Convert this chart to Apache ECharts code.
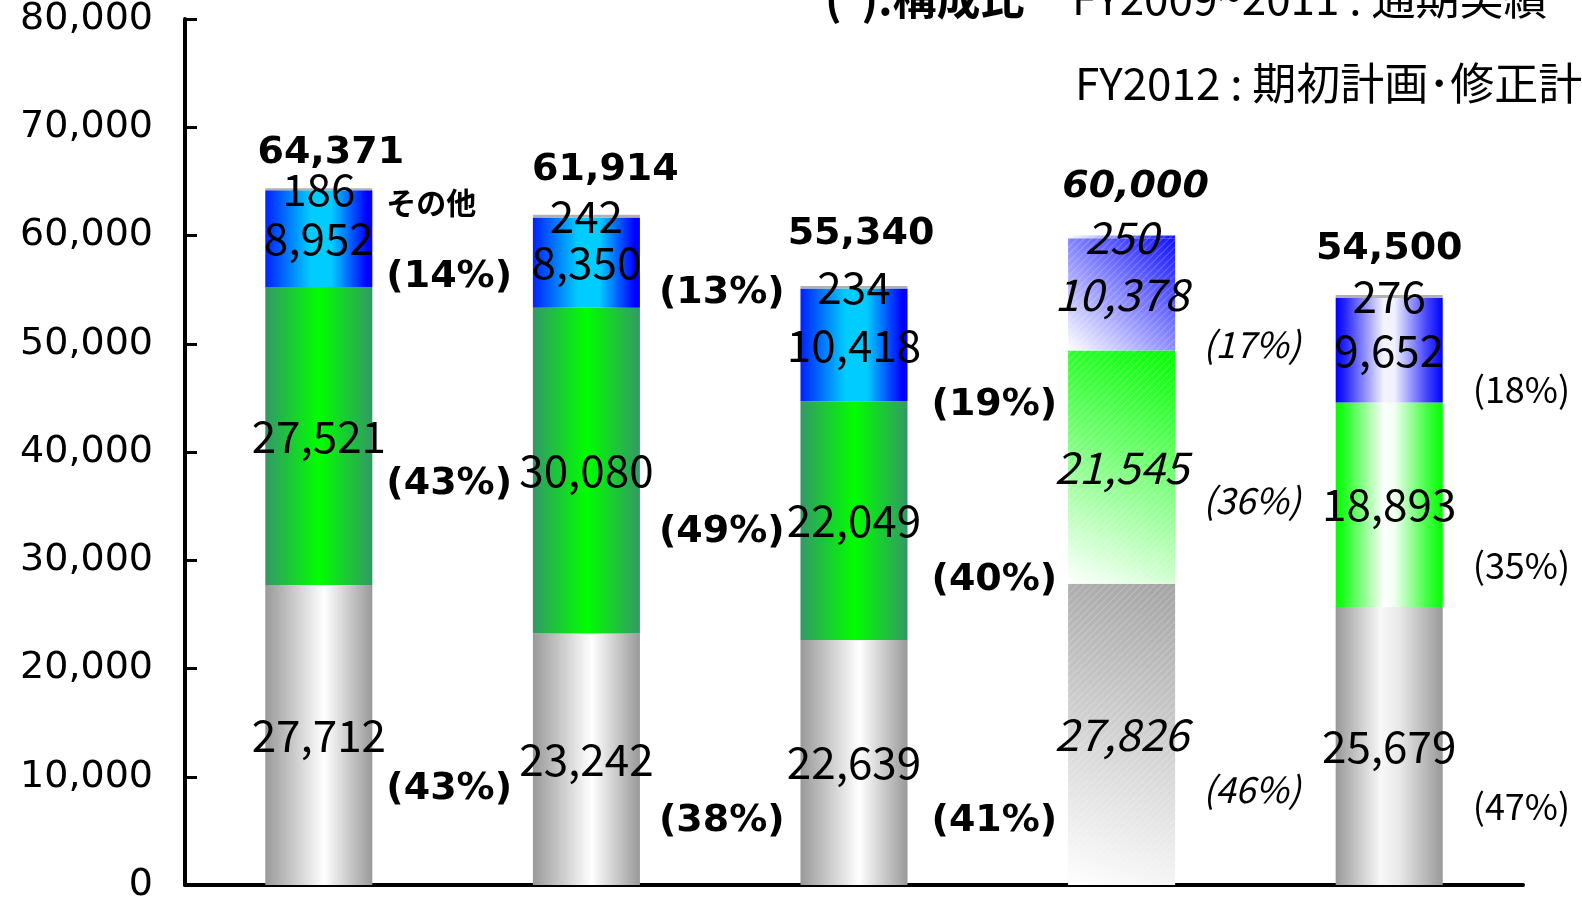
<!DOCTYPE html>
<html>
<head>
<meta charset="utf-8">
<script src="https://cdn.jsdelivr.net/npm/echarts@6.0.0/dist/echarts.min.js"></script>
<style>
    html, body { margin: 0; padding: 0; background: #fff; }
    #main { width: 1582px; height: 904px; }
</style>
</head>
<body>
<div id="main"></div>
<script>
// データ
var categories = ['FY2009', 'FY2010', 'FY2011', 'FY2012期初計画', 'FY2012修正計画'];
var segA = [27712, 23242, 22639, 27826, 25679];
var segB = [27521, 30080, 22049, 21545, 18893];
var segC = [8952, 8350, 10418, 10378, 9652];
var segOther = [186, 242, 234, 250, 276];
var totals = [64371, 61914, 55340, 60000, 54500];
var pctA = [43, 38, 41, 46, 47];
var pctB = [43, 49, 40, 36, 35];
var pctC = [14, 13, 19, 17, 18];
var yMin = 0, yMax = 80000, yStep = 10000;

// ラベル位置の微調整
var pctDx = [0, 5, 10, 14, 16];
var pctDyA = [54, 62, 59, 55, 60];
var pctDyB = [48, 62, 60, 33, 61];
var pctDyC = [38, 31, 60, 50, 39];
var totalDx = [12, 19, 7, 14, 0];
var totalDy = [-16, -26, -33, -29, -27];

var CJK = '"Noto Sans CJK JP"';
var LAT = '"DejaVu Sans"';

function grad(x, y, x2, y2, stops) {
    return new echarts.graphic.LinearGradient(x, y, x2, y2,
        stops.map(function (s) { return { offset: s[0], color: s[1] }; }));
}

// 棒の塗り（実績・期初計画・修正計画）
function fill(kind, i) {
    if (i < 3) {
        if (kind == 'A') return grad(0, 0, 1, 0, [[0, '#999999'], [0.55, '#ffffff'], [1, '#999999']]);
        if (kind == 'B') return grad(0, 0, 1, 0, [[0, '#339966'], [0.5, '#00ff00'], [1, '#339966']]);
        if (kind == 'C') return grad(0, 0, 1, 0, [[0, '#0022ff'], [0.42, '#00ccff'], [0.62, '#00ccff'], [0.95, '#0000ff'], [1, '#0000ff']]);
        return '#b2b2b2';
    }
    if (i == 3) {
        if (kind == 'A') return grad(0, 1, 1, 0, [[0, '#ffffff'], [1, '#a4a4a4']]);
        if (kind == 'B') return grad(0, 1, 1, 0, [[0, '#ffffff'], [1, '#00ff00']]);
        return grad(0, 1, 1, 0, [[0, '#ffffff'], [1, '#1111ff']]);
    }
    if (kind == 'A') return grad(0, 0, 1, 0, [[0, '#999999'], [0.42, '#f8f8f8'], [0.6, '#e8e8e8'], [1, '#999999']]);
    if (kind == 'B') return grad(0, 0, 1, 0, [[0, '#00ff00'], [0.08, '#22ff22'], [0.45, '#ffffff'], [0.55, '#f0fff0'], [0.85, '#44ff44'], [1, '#00ff00']]);
    if (kind == 'C') return grad(0, 0, 1, 0, [[0, '#0000ff'], [0.08, '#2222ff'], [0.45, '#f4f4ff'], [0.55, '#f0f0ff'], [0.85, '#4444ff'], [1, '#0000ff']]);
    return '#b2b2b2';
}

// 期初計画の斜線（うすく）
var hatch = {
    symbol: 'rect', symbolSize: 1,
    dashArrayX: [1, 0], dashArrayY: [1, 4],
    rotation: -Math.PI / 4,
    color: 'rgba(255,255,255,0.22)'
};

function valueData(kind, arr) {
    return arr.map(function (v, i) {
        var item = {
            value: v,
            itemStyle: { color: fill(kind, i) },
            label: { fontStyle: i == 3 ? 'italic' : 'normal' }
        };
        if (i == 3) item.itemStyle.decal = hatch;
        return item;
    });
}

function pctData(arr, pct, dy) {
    return arr.map(function (v, i) {
        return {
            value: v,
            label: {
                formatter: '(' + pct[i] + '%)',
                offset: [pctDx[i], dy[i]],
                fontFamily: i < 3 ? LAT : CJK,
                fontWeight: i < 3 ? 'bold' : 'normal',
                fontStyle: i == 3 ? 'italic' : 'normal',
                fontSize: i < 3 ? 38 : 36
            }
        };
    });
}

function valueSeries(name, kind, arr) {
    return {
        name: name,
        type: 'bar',
        stack: 'a',
        barWidth: '40%',
        barGap: '-100%',
        data: valueData(kind, arr),
        label: {
            show: true,
            position: 'inside',
            color: '#000',
            fontFamily: CJK,
            fontSize: 44,
            formatter: function (p) { return p.value.toLocaleString('en-US'); }
        }
    };
}

function pctSeries(name, arr, pct, dy) {
    return {
        name: name,
        type: 'bar',
        stack: 'p',
        barWidth: '40%',
        barGap: '-100%',
        itemStyle: { color: 'rgba(0,0,0,0)' },
        data: pctData(arr, pct, dy),
        label: { show: true, position: 'right', distance: 14, color: '#000' },
        z: 3
    };
}

var chartDom = document.getElementById('main');
var myChart = echarts.init(chartDom);
var option;

option = {
    animation: false,
    grid: { left: 185, right: 59, top: 18, bottom: 18 },
    graphic: [
        { type: 'text', x: 825, y: -2, style: { text: '(  ):構成比', font: 'bold 44px ' + CJK, fill: '#000', verticalAlign: 'middle' } },
        { type: 'text', x: 1072, y: -2, style: { text: 'FY2009~2011 : 通期実績', font: '44px ' + CJK, fill: '#000', verticalAlign: 'middle' } },
        { type: 'text', x: 1075, y: 83, style: { text: 'FY2012 : 期初計画･修正計画', font: '44px ' + CJK, fill: '#000', verticalAlign: 'middle' } }
    ],
    xAxis: {
        type: 'category',
        data: categories,
        axisLine: { lineStyle: { color: '#000', width: 4 } },
        axisTick: { inside: true, length: 12, lineStyle: { color: '#000', width: 3 } },
        axisLabel: { show: false }
    },
    yAxis: {
        type: 'value',
        min: yMin,
        max: yMax,
        interval: yStep,
        axisLine: { show: true, lineStyle: { color: '#000', width: 4 } },
        axisTick: { show: true, inside: true, length: 12, lineStyle: { color: '#000', width: 3 } },
        splitLine: { show: false },
        axisLabel: {
            color: '#000',
            fontFamily: LAT,
            fontSize: 38,
            margin: 32,
            padding: [16, 0, 0, 0],
            formatter: function (v) { return v.toLocaleString('en-US'); }
        }
    },
    series: [
        valueSeries('A', 'A', segA),
        valueSeries('B', 'B', segB),
        valueSeries('C', 'C', segC),
        valueSeries('その他', 'D', segOther),
        pctSeries('A%', segA, pctA, pctDyA),
        pctSeries('B%', segB, pctB, pctDyB),
        pctSeries('C%', segC, pctC, pctDyC),
        {
            name: 'その他',
            type: 'bar',
            stack: 'p',
            barWidth: '40%',
            barGap: '-100%',
            itemStyle: { color: 'rgba(0,0,0,0)' },
            data: segOther.map(function (v, i) {
                return { value: v, label: { show: i == 0 } };
            }),
            label: {
                position: 'right', distance: 14, offset: [0, 13],
                formatter: '{a}', color: '#000',
                fontFamily: CJK, fontWeight: 'bold', fontSize: 30
            },
            z: 3
        },
        {
            name: '合計',
            type: 'scatter',
            symbolSize: 0,
            itemStyle: { color: '#fff', opacity: 1 },
            data: totals.map(function (v, i) {
                return {
                    value: v,
                    label: { offset: [totalDx[i], totalDy[i]], fontStyle: i == 3 ? 'italic' : 'normal' }
                };
            }),
            label: {
                show: true,
                position: 'top',
                distance: 0,
                color: '#000',
                opacity: 1,
                fontFamily: LAT,
                fontWeight: 'bold',
                fontSize: 38,
                formatter: function (p) { return p.value.toLocaleString('en-US'); }
            },
            z: 5
        }
    ]
};

option && myChart.setOption(option);
</script>
</body>
</html>
